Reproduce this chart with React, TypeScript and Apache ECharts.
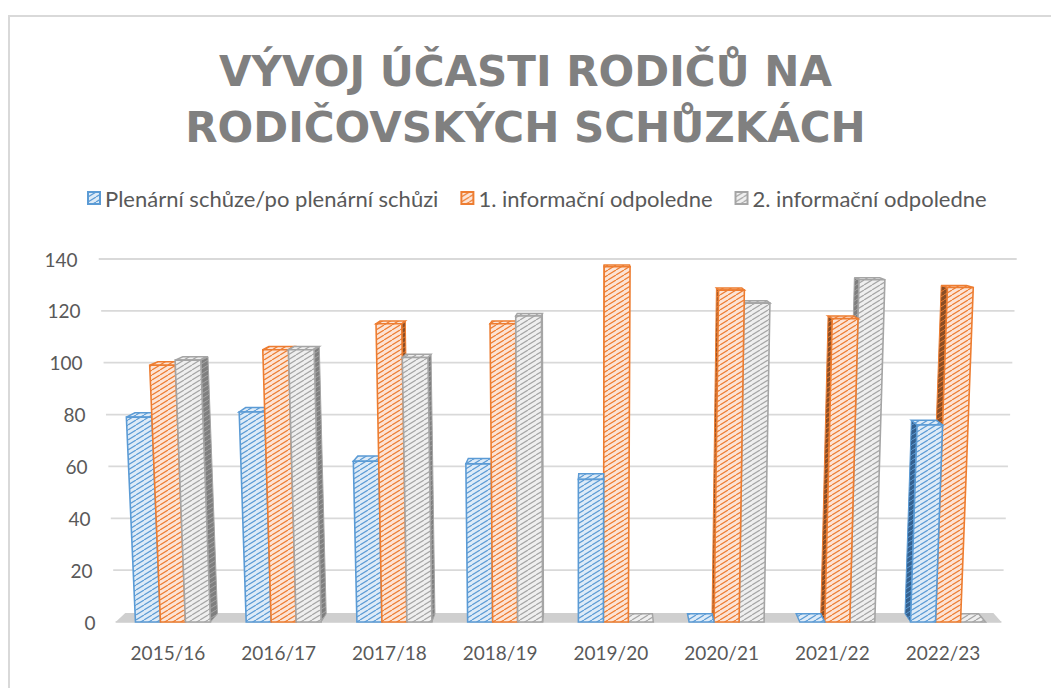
import React, { useEffect, useRef } from 'react';
import * as echarts from 'echarts';

const categories = ['2015/16', '2016/17', '2017/18', '2018/19', '2019/20', '2020/21', '2021/22', '2022/23'];
const plenarni = [79, 81, 62, 61, 55, 0, 0, 76];
const informacni1 = [99, 105, 115, 115, 137, 128, 117, 129];
const informacni2 = [101, 105, 102, 118, 0, 123, 132, 0];
const seriesNames = ['Plenární schůze/po plenární schůzi', '1. informační odpoledne', '2. informační odpoledne'];
const seriesValues = [plenarni, informacni1, informacni2];
const yTicks = [0, 20, 40, 60, 80, 100, 120, 140];

const lineColors = ['#5b9bd5', '#ed7d31', '#a5a5a5'];
const frontBg = ['#deebf7', '#fce4d6', '#efefef'];
const sideBg = ['#35618f', '#8a4e26', '#7f7f7f'];

const VP = [600, 170];
const DEPTH = 0.018;
const FLOOR_DEPTH = 0.02;
const LEAN_X = 580;
const LEAN_DIST = 10000;
const SHIFT = 5;
const BAR_FRAC = 0.2257;
const FONT = 'Lato, "Noto Sans", sans-serif';

function makePattern(bg: string, line: string, lw: number) {
  const W = 8;
  const H = 5;
  const c = document.createElement('canvas');
  c.width = W;
  c.height = H;
  const ctx = c.getContext('2d')!;
  ctx.fillStyle = bg;
  ctx.fillRect(0, 0, W, H);
  ctx.strokeStyle = line;
  ctx.lineWidth = lw;
  for (const ox of [-W, 0, W]) {
    ctx.beginPath();
    ctx.moveTo(ox, H);
    ctx.lineTo(ox + W, 0);
    ctx.stroke();
  }
  return { image: c, repeat: 'repeat' };
}

export default function App() {
  const ref = useRef<HTMLDivElement>(null);

  useEffect(() => {
    if (!ref.current) return;
    const chart = echarts.init(ref.current, undefined, { renderer: 'svg' });

    const frontPatterns = [0, 1, 2].map((s) => makePattern(frontBg[s], lineColors[s], 1.2));
    const sidePatterns = [0, 1, 2].map((s) => makePattern(sideBg[s], lineColors[s], 1));

    const back = (p: number[], k: number) => [p[0] + k * (VP[0] - p[0]), p[1] + k * (VP[1] - p[1])];

    const makeRenderer = (s: number) => (params: any, api: any) => {
      const idx = api.value(0);
      const v = api.value(1);
      const top = api.coord([idx, v]);
      const base = api.coord([idx, 0]);
      const bw = api.size([1, 0])[0];
      const w = bw * BAR_FRAC;
      const x0 = top[0] + SHIFT - 1.5 * w + s * w;
      const x1 = x0 + w;
      const y0 = base[1];
      const y = top[1];
      const lean = (x: number, yy: number) => [LEAN_X + ((x - LEAN_X) * (LEAN_DIST + y0 - yy)) / LEAN_DIST, yy];
      const BL = lean(x0, y0);
      const BR = lean(x1, y0);
      const TR = lean(x1, y);
      const TL = lean(x0, y);
      const zc = Math.round(10 * (2000 - Math.abs((x0 + x1) / 2 - VP[0])));
      const children: any[] = [];
      const sideStyle = { fill: sidePatterns[s], stroke: lineColors[s], lineWidth: 1 };
      if (x1 < VP[0] && y0 - y > 0.5) {
        children.push({
          type: 'polygon',
          z2: zc,
          shape: { points: [TR, BR, back(BR, DEPTH), back(TR, DEPTH)] },
          style: sideStyle,
        });
      }
      if (x0 > VP[0] && y0 - y > 0.5) {
        children.push({
          type: 'polygon',
          z2: zc,
          shape: { points: [TL, BL, back(BL, DEPTH), back(TL, DEPTH)] },
          style: sideStyle,
        });
      }
      children.push({
        type: 'polygon',
        z2: zc + 1,
        shape: { points: [TL, TR, back(TR, DEPTH), back(TL, DEPTH)] },
        style: { fill: frontPatterns[s], stroke: lineColors[s], lineWidth: 1.5 },
      });
      if (y0 - y > 0.5) {
        children.push({
          type: 'polygon',
          z2: zc + 2,
          shape: { points: [TL, TR, BR, BL] },
          style: { fill: frontPatterns[s], stroke: lineColors[s], lineWidth: 1.6 },
        });
      }
      return { type: 'group', children };
    };

    const decorRenderer = (params: any, api: any) => {
      const cs = params.coordSys;
      const y0 = api.coord([0, 0])[1];
      const FL = cs.x + 3;
      const FR = cs.x + cs.width + 3;
      const lean = (x: number, yy: number) => [LEAN_X + ((x - LEAN_X) * (LEAN_DIST + y0 - yy)) / LEAN_DIST, yy];
      const children: any[] = yTicks.map((t) => {
        const yy = api.coord([0, t])[1];
        const a = lean(FL, yy);
        const b = lean(FR, yy);
        return {
          type: 'line',
          z2: 0,
          shape: { x1: a[0], y1: a[1], x2: b[0], y2: b[1] },
          style: { stroke: '#d9d9d9', lineWidth: 1.8 },
        };
      });
      const pL = [FL, y0];
      const pR = [FR, y0];
      children.push({
        type: 'polygon',
        z2: 1,
        shape: { points: [pL, pR, back(pR, FLOOR_DEPTH), back(pL, FLOOR_DEPTH)] },
        style: { fill: '#cfcfcf', stroke: 'none' },
      });
      return { type: 'group', children };
    };

    const rich: Record<string, any> = {};
    yTicks.forEach((t) => {
      rich['t' + t] = {
        padding: [0, Math.round(0.126 * t), 0, 0],
        fontSize: 19,
        color: '#595959',
        fontFamily: FONT,
      };
    });

    const option: any = {
      animation: false,
      title: {
        text: 'VÝVOJ ÚČASTI RODIČŮ NA\nRODIČOVSKÝCH SCHŮZKÁCH',
        left: 'center',
        top: 38,
        textStyle: {
          fontFamily: '"DejaVu Sans", sans-serif',
          fontWeight: 'bold',
          fontSize: 42,
          color: '#808080',
          lineHeight: 56,
        },
      },
      legend: {
        data: seriesNames,
        left: 82,
        top: 182,
        itemWidth: 12,
        itemHeight: 12,
        itemGap: 22,
        icon: 'rect',
        textStyle: { fontSize: 22, color: '#595959', fontFamily: FONT },
      },
      grid: { left: 112.6, right: 52.6, top: 259, bottom: 66, containLabel: false },
      xAxis: {
        type: 'category',
        data: categories,
        axisLine: { show: false },
        axisTick: { show: false },
        axisLabel: { margin: 21, fontSize: 19, color: '#595959', fontFamily: FONT },
      },
      yAxis: {
        type: 'value',
        min: 0,
        max: 140,
        interval: 20,
        axisLine: { show: false },
        axisTick: { show: false },
        splitLine: { show: false },
        axisLabel: {
          margin: 17,
          fontSize: 19,
          color: '#595959',
          fontFamily: FONT,
          formatter: (v: number) => `{t${v}|${v}}`,
          rich,
        },
      },
      series: [
        {
          type: 'custom',
          name: 'decor',
          silent: true,
          renderItem: decorRenderer,
          data: [[0, 0]],
          encode: { x: 0, y: 1 },
          z: 1,
        },
        ...seriesValues.map((vals, s) => ({
          type: 'custom',
          name: seriesNames[s],
          renderItem: makeRenderer(s),
          data: vals.map((v, i) => [i, v]),
          encode: { x: 0, y: 1 },
          itemStyle: { color: frontPatterns[s], borderColor: lineColors[s], borderWidth: 1 },
          z: 2,
        })),
      ],
    };

    chart.setOption(option);
    return () => chart.dispose();
  }, []);

  return (
    <>
      <div
        style={{
          position: 'absolute',
          left: 8,
          top: 15,
          width: 1043,
          height: 673,
          boxSizing: 'border-box',
          borderLeft: '2px solid #d9d9d9',
          borderTop: '2px solid #d9d9d9',
        }}
      />
      <div ref={ref} style={{ position: 'absolute', left: 0, top: 0, width: 1051, height: 688 }} />
    </>
  );
}
